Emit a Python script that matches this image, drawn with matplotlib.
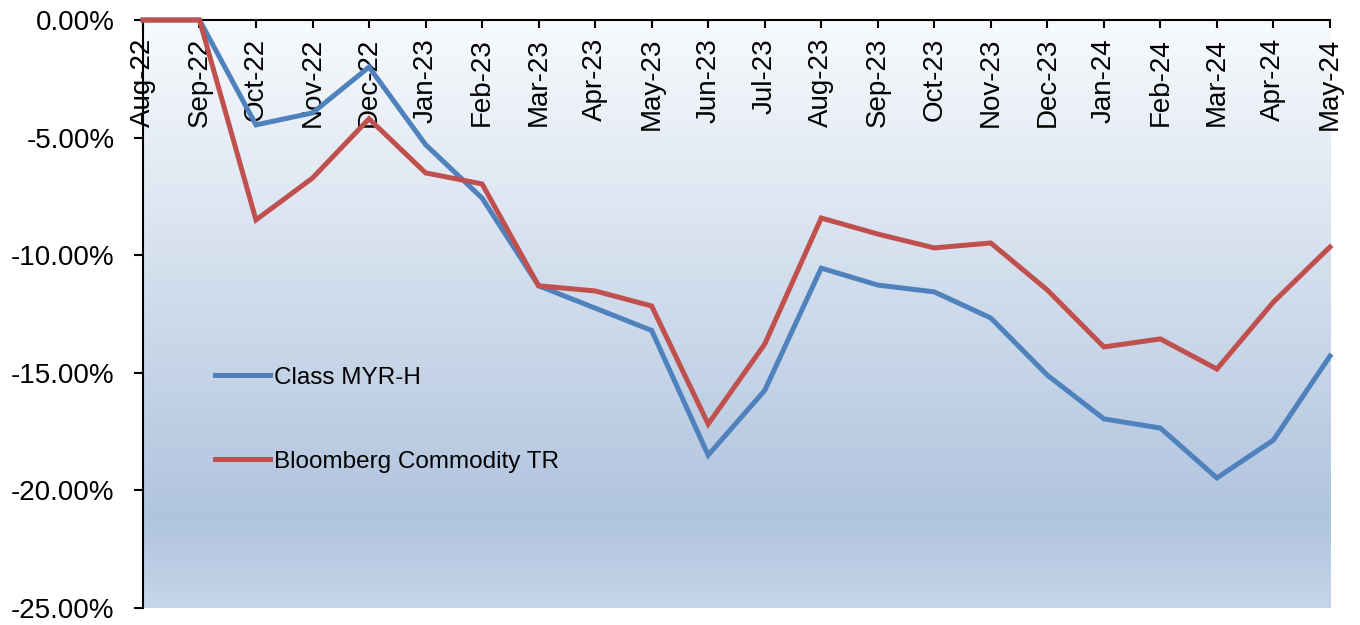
import numpy as np
import matplotlib.pyplot as plt
from matplotlib.colors import LinearSegmentedColormap
from matplotlib.ticker import FuncFormatter

plt.rcParams['font.family'] = ['Liberation Sans', 'DejaVu Sans']

months = ['Aug-22', 'Sep-22', 'Oct-22', 'Nov-22', 'Dec-22', 'Jan-23', 'Feb-23',
          'Mar-23', 'Apr-23', 'May-23', 'Jun-23', 'Jul-23', 'Aug-23', 'Sep-23',
          'Oct-23', 'Nov-23', 'Dec-23', 'Jan-24', 'Feb-24', 'Mar-24', 'Apr-24', 'May-24']
class_myr = [0.0, 0.0, -4.46, -3.95, -2.0, -5.3, -7.57, -11.3, -12.25, -13.2, -18.5,
             -15.75, -10.55, -11.27, -11.56, -12.67, -15.1, -16.96, -17.35, -19.47,
             -17.86, -14.29]
bbg_comm = [0.0, 0.0, -8.5, -6.72, -4.2, -6.5, -6.97, -11.3, -11.52, -12.16, -17.18,
            -13.78, -8.42, -9.1, -9.69, -9.48, -11.48, -13.9, -13.56, -14.84,
            -11.99, -9.65]

fig = plt.figure(figsize=(13.6, 6.25), dpi=100)
ax = fig.add_axes([0.1051, 0.0272, 0.8728, 0.9408])

x = np.arange(len(months))
ax.set_xlim(0, len(months) - 1)
ax.set_ylim(-25, 0)

# gradient background (white at top -> steel blue -> a bit lighter at bottom)
cmap = LinearSegmentedColormap.from_list('bg', [(0.0, '#c6d6ea'), (0.15, '#b0c4de'),
                                                (1.0, '#f8fafd')])
grad = np.linspace(0, 1, 256).reshape(-1, 1)
ax.imshow(grad, cmap=cmap, aspect='auto', origin='lower',
          extent=[0, len(months) - 1, -25, 0], zorder=0)

ax.plot(x, class_myr, color='#4f81bd', lw=3.6, label='Class MYR-H', clip_on=False,
        solid_joinstyle='miter', zorder=3)
ax.plot(x, bbg_comm, color='#c0504d', lw=3.6, label='Bloomberg Commodity TR', clip_on=False,
        solid_joinstyle='miter', zorder=3)

ax.spines['right'].set_visible(False)
ax.spines['bottom'].set_visible(False)
ax.spines['top'].set_linewidth(1.5)
ax.spines['left'].set_linewidth(1.5)

ax.set_yticks(np.arange(-25, 1, 5))
ax.yaxis.set_major_formatter(FuncFormatter(lambda v, p: '%.2f%%' % v))
ax.tick_params(axis='y', direction='out', length=6.5, width=1.5, labelsize=20, pad=14)

ax.xaxis.tick_top()
ax.set_xticks(x)
ax.set_xticklabels(months, rotation=90, fontsize=20)
ax.tick_params(axis='x', direction='in', length=6, width=1.5, pad=-13)
for lab in ax.get_xticklabels():
    lab.set_verticalalignment('top')

ax.legend(loc='center left', bbox_to_anchor=(0.042, 0.32), frameon=False, fontsize=17.5,
          handlelength=2.26, handletextpad=0.17, labelspacing=2.56)

fig.savefig('out.png', dpi=100)
